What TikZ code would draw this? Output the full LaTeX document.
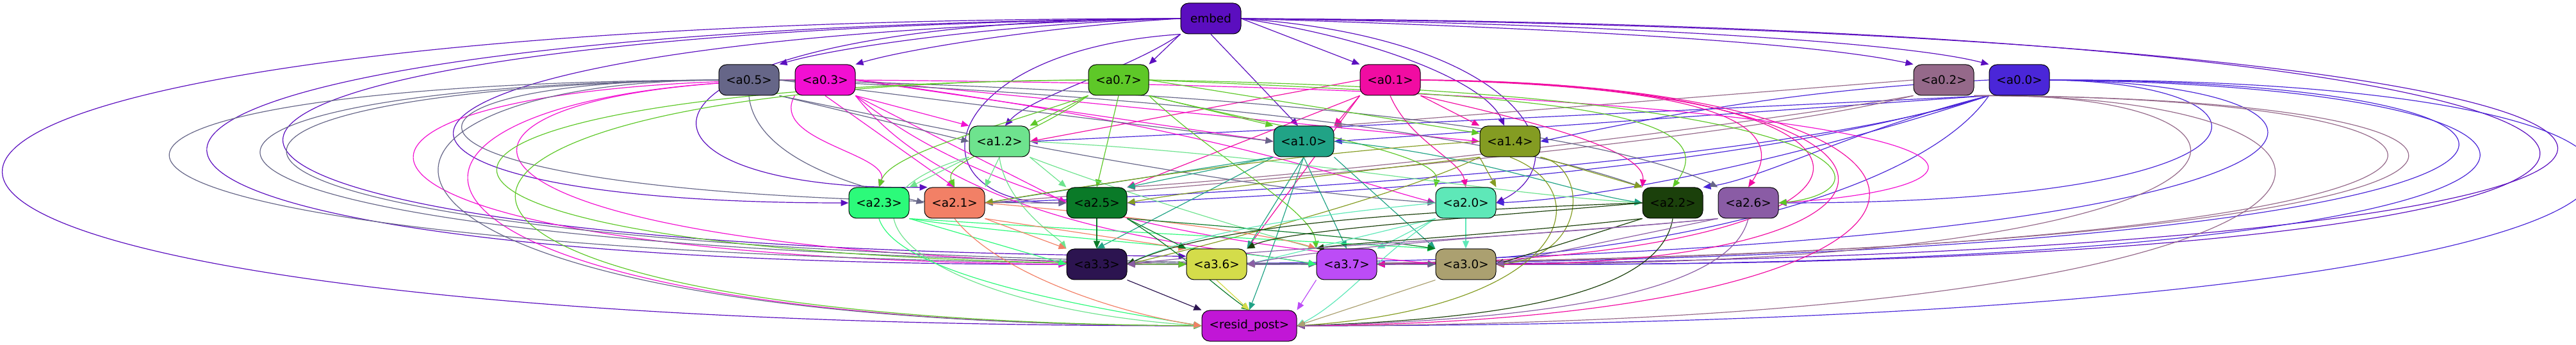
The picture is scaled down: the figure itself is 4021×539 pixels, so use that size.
\documentclass[tikz,border=0pt]{standalone}
\usepackage{fontspec}
\setmainfont{DejaVu Sans}
\usetikzlibrary{arrows.meta,backgrounds}
\definecolor{colembed}{RGB}{91,14,191}
\definecolor{col05}{RGB}{102,102,136}
\definecolor{col03}{RGB}{242,15,210}
\definecolor{col07}{RGB}{94,200,40}
\definecolor{col01}{RGB}{241,12,162}
\definecolor{col02}{RGB}{149,105,138}
\definecolor{col00}{RGB}{74,38,216}
\definecolor{col12}{RGB}{110,227,142}
\definecolor{col10}{RGB}{33,163,134}
\definecolor{col14}{RGB}{132,156,34}
\definecolor{col23}{RGB}{44,250,122}
\definecolor{col21}{RGB}{242,128,102}
\definecolor{col25}{RGB}{10,122,40}
\definecolor{col20}{RGB}{94,232,184}
\definecolor{col22}{RGB}{27,64,11}
\definecolor{col26}{RGB}{138,92,165}
\definecolor{col33}{RGB}{44,20,80}
\definecolor{col36}{RGB}{212,220,74}
\definecolor{col37}{RGB}{188,76,246}
\definecolor{col30}{RGB}{171,160,112}
\definecolor{colresid}{RGB}{193,22,214}

\begin{document}
\begin{tikzpicture}[
    x=0.5pt, y=-0.5pt,
    head/.style={draw=black, line width=0.5pt, rounded corners=6pt, minimum width=47pt, minimum height=24pt, inner sep=0pt, font=\fontsize{9.2}{11}\selectfont},
    link/.style={line width=0.6pt, -{Triangle[length=6pt,width=5pt]}}
]

\useasboundingbox (0,0) rectangle (4021,539);

% === Nodes ===
\node[head, fill=colembed] (embed) at (1890,29) {embed};

\node[head, fill=col05] (a05) at (1169,125) {<a0.5>};
\node[head, fill=col03] (a03) at (1288,125) {<a0.3>};
\node[head, fill=col07] (a07) at (1746,125) {<a0.7>};
\node[head, fill=col01] (a01) at (2170,125) {<a0.1>};
\node[head, fill=col02] (a02) at (3034,125) {<a0.2>};
\node[head, fill=col00] (a00) at (3152,125) {<a0.0>};

\node[head, fill=col12] (a12) at (1560,221) {<a1.2>};
\node[head, fill=col10] (a10) at (2035,221) {<a1.0>};
\node[head, fill=col14] (a14) at (2357,221) {<a1.4>};

\node[head, fill=col23] (a23) at (1372,317) {<a2.3>};
\node[head, fill=col21] (a21) at (1490,317) {<a2.1>};
\node[head, fill=col25] (a25) at (1712,317) {<a2.5>};
\node[head, fill=col20] (a20) at (2288,317) {<a2.0>};
\node[head, fill=col22] (a22) at (2611,317) {<a2.2>};
\node[head, fill=col26] (a26) at (2729,317) {<a2.6>};

\node[head, fill=col33] (a33) at (1712,413) {<a3.3>};
\node[head, fill=col36] (a36) at (1899,413) {<a3.6>};
\node[head, fill=col37] (a37) at (2102,413) {<a3.7>};
\node[head, fill=col30] (a30) at (2288,413) {<a3.0>};

\node[head, fill=colresid, minimum width=74pt] (resid) at (1950,509) {<resid\_post>};

\begin{scope}[on background layer]
% === From embed ===
\draw[link, colembed] (embed.west) .. controls (1600,35) and (1320,70) .. (a05.north east);
\draw[link, colembed] (embed.west) .. controls (1650,40) and (1420,75) .. (a03.north east);
\draw[link, colembed] (embed.south west) -- (a07.north east);
\draw[link, colembed] (embed.east) -- (a01.north west);
\draw[link, colembed] (embed.east) .. controls (2300,40) and (2800,60) .. (a02.north west);
\draw[link, colembed] (embed.east) .. controls (2400,35) and (2950,60) .. (a00.north west);
\draw[link, colembed] (embed.south west) .. controls (1760,110) and (1610,150) .. (a12.70);
\draw[link, colembed] (embed.south) -- (a10.110);
\draw[link, colembed] (embed.east) .. controls (2150,60) and (2320,130) .. (a14.110);
\draw[link, colembed] (embed.east) .. controls (2380,60) and (2470,250) .. (a20.east);
\draw[link, colembed] (embed.west) .. controls (917,30) and (917,300) .. (a21.150);
\draw[link, colembed] (embed.south west) .. controls (1450,80) and (1420,320) .. (a25.west);
\draw[link, colembed] (embed.west) .. controls (433,60) and (433,317) .. (a23.west);
\draw[link, colembed] (embed.west) .. controls (-151,45) and (-151,413) .. (a33.west);
\draw[link, colembed] (embed.west) .. controls (-25,50) and (-25,390) .. (a36.165);
\draw[link, colembed] (embed.west) .. controls (-613,29) and (-613,509) .. (resid.west);
\draw[link, colembed] (embed.east) .. controls (4568,40) and (4568,420) .. (a30.east);
\draw[link, colembed] (embed.east) .. controls (4639,50) and (4639,405) .. (a37.east);

% === From a0.0 ===
\draw[link, col00] (a00.south west) -- (a12.east);
\draw[link, col00] (a00.south west) -- (a10.east);
\draw[link, col00] (a00.west) .. controls (2800,140) and (2600,180) .. (a14.east);
\draw[link, col00] (a00.south west) .. controls (2800,250) and (2000,300) .. (a21.east);
\draw[link, col00] (a00.south west) .. controls (2700,270) and (2100,300) .. (a25.east);
\draw[link, col00] (a00.south west) .. controls (2800,250) and (2500,310) .. (a20.east);
\draw[link, col00] (a00.south west) .. controls (2900,200) and (2750,280) .. (a22.north east);
\draw[link, col00] (a00.south west) .. controls (3000,300) and (2600,400) .. (a37.east);
\draw[link, col00] (a00.east) .. controls (3587,130) and (3587,317) .. (a26.east);
\draw[link, col00] (a00.east) .. controls (3788,130) and (3788,405) .. (a33.east);
\draw[link, col00] (a00.east) .. controls (4197,125) and (4197,410) .. (a36.east);
\draw[link, col00] (a00.east) .. controls (4205,135) and (4205,418) .. (a30.east);
\draw[link, col00] (a00.east) .. controls (4481,120) and (4481,509) .. (resid.east);

% === From a0.2 ===
\draw[link, col02] (a02.west) -- (a10.north east);
\draw[link, col02] (a02.south west) .. controls (2700,220) and (2000,280) .. (a21.east);
\draw[link, col02] (a02.south west) .. controls (2700,200) and (2100,270) .. (a25.north east);
\draw[link, col02] (a02.south east) .. controls (3616,140) and (3616,410) .. (a30.east);
\draw[link, col02] (a02.south east) .. controls (3827,145) and (3827,505) .. (resid.east);
\draw[link, col02] (a02.south east) .. controls (4078,150) and (4078,405) .. (a36.east);
\draw[link, col02] (a02.south east) .. controls (4140,150) and (4140,415) .. (a33.east);

% === From a0.1 ===
\draw[link, col01] (a01.west) -- (a12.east);
\draw[link, col01] (a01.south west) -- (a10.north east);
\draw[link, col01] (a01.south east) -- (a14.north west);
\draw[link, col01] (a01.south west) -- (a25.north east);
\draw[link, col01] (a01.south) .. controls (2200,220) and (2280,250) .. (a20.north);
\draw[link, col01] (a01.south east) .. controls (2350,180) and (2570,230) .. (a22.north west);
\draw[link, col01] (a01.east) .. controls (2700,135) and (2790,200) .. (a26.north);
\draw[link, col01] (a01.south west) -- (a36.north east);
\draw[link, col01] (a01.east) .. controls (3044,130) and (3044,400) .. (a37.east);
\draw[link, col01] (a01.east) .. controls (3064,135) and (3064,410) .. (a30.east);
\draw[link, col01] (a01.east) .. controls (3180,130) and (3180,500) .. (resid.east);

% === From a0.3 ===
\draw[link, col03] (a03.south east) -- (a12.north west);
\draw[link, col03] (a03.east) -- (a10.west);
\draw[link, col03] (a03.east) -- (a14.west);
\draw[link, col03] (a03.south west) .. controls (1200,220) and (1390,240) .. (a23.north);
\draw[link, col03] (a03.south) -- (a21.north);
\draw[link, col03] (a03.south east) -- (a25.west);
\draw[link, col03] (a03.east) .. controls (1900,200) and (2100,280) .. (a20.west);
\draw[link, col03] (a03.east) .. controls (3201,140) and (3201,290) .. (a26.east);
\draw[link, col03] (a03.west) .. controls (388,130) and (388,400) .. (a33.west);
\draw[link, col03] (a03.west) .. controls (586,135) and (586,400) .. (a36.west);
\draw[link, col03] (a03.west) .. controls (479,135) and (479,505) .. (resid.west);
\draw[link, col03] (a03.south east) .. controls (1500,360) and (1900,385) .. (a37.west);
\draw[link, col03] (a03.south east) .. controls (1600,370) and (2100,395) .. (a30.west);

% === From a0.5 ===
\draw[link, col05] (a05.south east) -- (a12.west);
\draw[link, col05] (a05.east) -- (a10.west);
\draw[link, col05] (a05.south east) .. controls (1700,250) and (2000,300) .. (a20.west);
\draw[link, col05] (a05.east) .. controls (1800,150) and (2300,200) .. (a22.north west);
\draw[link, col05] (a05.east) .. controls (1900,140) and (2500,200) .. (a26.north west);
\draw[link, col05] (a05.south) .. controls (1180,260) and (1380,300) .. (a21.west);
\draw[link, col05] (a05.west) .. controls (519,125) and (519,317) .. (a25.west);
\draw[link, col05] (a05.west) .. controls (-121,130) and (-121,400) .. (a36.west);
\draw[link, col05] (a05.west) .. controls (49,135) and (49,405) .. (a37.west);
\draw[link, col05] (a05.west) .. controls (87,140) and (87,410) .. (a30.west);
\draw[link, col05] (a05.west) .. controls (448,130) and (448,505) .. (resid.west);

% === From a0.7 ===
\draw[link, col07] (a07.south west) -- (a12.north east);
\draw[link, col07] (a07.south east) -- (a10.north west);
\draw[link, col07] (a07.east) -- (a14.165);
\draw[link, col07] (a07.south west) .. controls (1550,200) and (1390,240) .. (a23.north);
\draw[link, col07] (a07.south west) .. controls (1600,220) and (1470,250) .. (a21.north);
\draw[link, col07] (a07.south) -- (a25.north);
\draw[link, col07] (a07.south east) .. controls (2000,200) and (2250,240) .. (a20.north west);
\draw[link, col07] (a07.east) .. controls (2400,150) and (2700,170) .. (a22.north);
\draw[link, col07] (a07.east) .. controls (2950,145) and (2950,300) .. (a26.east);
\draw[link, col07] (a07.south east) .. controls (1900,250) and (2050,330) .. (a37.north west);
\draw[link, col07] (a07.west) .. controls (445,135) and (445,408) .. (a36.west);
\draw[link, col07] (a07.west) .. controls (480,130) and (480,500) .. (resid.west);

% === From layer 1 ===
\draw[link, col12] (a12.south west) -- (a23.north east);
\draw[link, col12] (a12.south) -- (a21.north east);
\draw[link, col12] (a12.south east) -- (a25.north west);
\draw[link, col12] (a12.east) .. controls (2000,240) and (2300,300) .. (a22.west);
\draw[link, col12] (a12.south) .. controls (1570,320) and (1650,370) .. (a33.north west);
\draw[link, col12] (a12.south east) .. controls (1750,300) and (1950,360) .. (a37.north west);
\draw[link, col12] (a12.south west) .. controls (1250,320) and (1450,480) .. (resid.west);

\draw[link, col10] (a10.south west) -- (a21.east);
\draw[link, col10] (a10.south west) -- (a25.north east);
\draw[link, col10] (a10.east) .. controls (2300,240) and (2450,300) .. (a22.west);
\draw[link, col10] (a10.south west) -- (a33.north);
\draw[link, col10] (a10.south) -- (a36.north east);
\draw[link, col10] (a10.south) -- (a37.north);
\draw[link, col10] (a10.south east) -- (a30.north west);
\draw[link, col10] (a10.south) .. controls (2000,350) and (1975,420) .. (resid.north);

\draw[link, col14] (a14.west) .. controls (2000,240) and (1700,290) .. (a21.east);
\draw[link, col14] (a14.south west) .. controls (2100,270) and (1850,300) .. (a25.east);
\draw[link, col14] (a14.south west) -- (a20.north east);
\draw[link, col14] (a14.south east) -- (a22.north west);
\draw[link, col14] (a14.south west) .. controls (2200,300) and (1900,380) .. (a33.east);
\draw[link, col14] (a14.south east) .. controls (2480,260) and (2480,400) .. (a30.east);
\draw[link, col14] (a14.south) .. controls (2500,300) and (2450,480) .. (resid.east);

% === From layer 2 ===
\draw[link, col23] (a23.south east) -- (a33.west);
\draw[link, col23] (a23.south east) .. controls (1600,370) and (1900,385) .. (a37.west);
\draw[link, col23] (a23.south east) .. controls (1700,360) and (2100,380) .. (a30.north west);
\draw[link, col23] (a23.south) .. controls (1400,430) and (1700,480) .. (resid.west);

\draw[link, col21] (a21.south east) -- (a33.north west);
\draw[link, col21] (a21.south east) -- (a36.north west);
\draw[link, col21] (a21.east) .. controls (1800,340) and (2000,370) .. (a37.north west);
\draw[link, col21] (a21.south) .. controls (1560,430) and (1750,490) .. (resid.west);

\draw[link, col25] (a25.south) -- (a33.north);
\draw[link, col25] (a25.south east) -- (a36.north west);
\draw[link, col25] (a25.south east) .. controls (2000,360) and (2150,375) .. (a30.north west);
\draw[link, col25] (a25.south east) .. controls (1850,400) and (1900,450) .. (resid.north);

\draw[link, col20] (a20.west) .. controls (2000,340) and (1850,370) .. (a33.east);
\draw[link, col20] (a20.south west) -- (a36.east);
\draw[link, col20] (a20.south west) -- (a37.north east);
\draw[link, col20] (a20.south) -- (a30.north);
\draw[link, col20] (a20.south west) .. controls (2150,400) and (2100,470) .. (resid.east);

\draw[link, col22] (a22.west) .. controls (2200,330) and (1900,350) .. (a33.east);
\draw[link, col22] (a22.west) .. controls (2300,340) and (2000,360) .. (a36.north east);
\draw[link, col22] (a22.south west) .. controls (2300,370) and (2100,380) .. (a37.north west);
\draw[link, col22] (a22.south west) -- (a30.east);
\draw[link, col22] (a22.south) .. controls (2590,470) and (2300,500) .. (resid.east);

\draw[link, col26] (a26.south west) .. controls (2400,370) and (2000,385) .. (a33.east);
\draw[link, col26] (a26.south west) .. controls (2500,360) and (2100,380) .. (a36.east);
\draw[link, col26] (a26.south west) -- (a30.east);
\draw[link, col26] (a26.south) .. controls (2700,460) and (2400,500) .. (resid.east);

% === From layer 3 ===
\draw[link, col33] (a33.south east) -- (resid.north west);
\draw[link, col36] (a36.south) -- (resid.north);
\draw[link, col37] (a37.south west) -- (resid.north east);
\draw[link, col30] (a30.south west) -- (resid.east);
\end{scope}

\end{tikzpicture}
\end{document}
